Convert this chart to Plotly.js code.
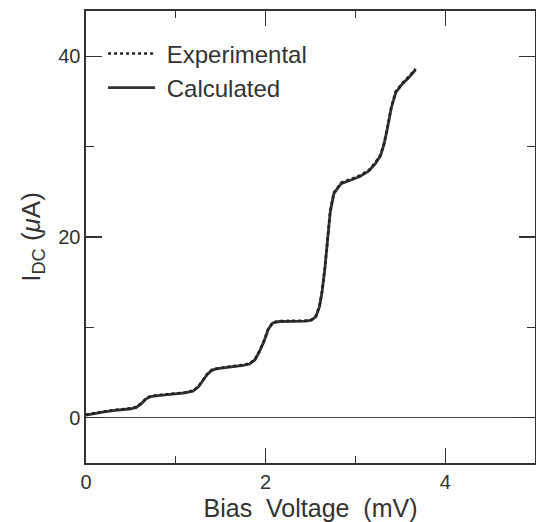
<!DOCTYPE html>
<html>
<head>
<meta charset="utf-8">
<script src="https://cdn.plot.ly/plotly-3.0.1.min.js"></script>
<style>html,body{margin:0;padding:0;background:#fff;}#chart{width:536px;height:522px;}</style>
</head>
<body>
<div id="chart"></div>
<script>
// Bias voltage (mV)
const biasCalc = [0, 0.1, 0.2, 0.3, 0.4, 0.5, 0.56, 0.62, 0.67, 0.72, 0.8, 0.9, 1.0, 1.1, 1.19, 1.25, 1.30, 1.35, 1.40, 1.45, 1.55, 1.65, 1.75, 1.82, 1.88, 1.93, 1.98, 2.03, 2.08, 2.15, 2.25, 2.35, 2.45, 2.51, 2.56, 2.60, 2.63, 2.66, 2.69, 2.72, 2.76, 2.84, 2.95, 3.05, 3.15, 3.22, 3.28, 3.32, 3.36, 3.40, 3.45, 3.52, 3.60, 3.67];
// Calculated I_DC (uA)
const currentCalc = [0.3, 0.5, 0.65, 0.8, 0.9, 1.0, 1.15, 1.6, 2.1, 2.35, 2.45, 2.55, 2.65, 2.75, 2.95, 3.4, 4.1, 4.8, 5.25, 5.4, 5.55, 5.65, 5.8, 5.95, 6.4, 7.3, 8.4, 9.8, 10.5, 10.65, 10.65, 10.65, 10.7, 10.8, 11.2, 12.3, 14.0, 16.5, 19.8, 22.8, 24.8, 25.9, 26.3, 26.7, 27.3, 28.1, 29.0, 30.3, 32.2, 34.3, 36.0, 36.9, 37.7, 38.5];
// Experimental
const biasExp = [0, 0.1, 0.2, 0.3, 0.4, 0.5, 0.56, 0.62, 0.67, 0.72, 0.8, 0.9, 1.0, 1.1, 1.19, 1.25, 1.30, 1.35, 1.40, 1.45, 1.55, 1.65, 1.75, 1.82, 1.88, 1.93, 1.98, 2.03, 2.08, 2.15, 2.25, 2.35, 2.45, 2.51, 2.56, 2.60, 2.63, 2.66, 2.69, 2.72, 2.76, 2.84, 2.95, 3.05, 3.15, 3.22, 3.28, 3.32, 3.36, 3.40, 3.45, 3.52, 3.60, 3.67];
const currentExp = [0.35, 0.55, 0.7, 0.85, 0.95, 1.05, 1.2, 1.65, 2.15, 2.4, 2.5, 2.6, 2.7, 2.8, 3.0, 3.45, 4.15, 4.85, 5.3, 5.45, 5.6, 5.7, 5.85, 6.0, 6.45, 7.35, 8.45, 9.85, 10.55, 10.7, 10.7, 10.7, 10.75, 10.85, 11.25, 12.35, 14.1, 16.6, 19.9, 22.9, 24.9, 26.0, 26.4, 26.8, 27.4, 28.2, 29.1, 30.4, 32.3, 34.4, 36.1, 37.0, 37.8, 38.6];

const seriesNames = ['Calculated', 'Experimental'];
const xTickVals = [0, 2, 4];
const yTickVals = [0, 20, 40];

const traces = [
  {x: biasCalc, y: currentCalc, mode: 'lines', name: '\u00a0' + seriesNames[0], legendrank: 2,
   line: {color: '#333333', width: 2.8, dash: 'solid'}},
  {x: biasExp, y: currentExp, mode: 'lines', name: '\u00a0' + seriesNames[1], legendrank: 1,
   line: {color: '#222222', width: 2.6, dash: 'dot'}}
];

const font = 'Liberation Sans, Arial, Helvetica, sans-serif';
const layout = {
  width: 536, height: 522,
  margin: {l: 86, r: 1, t: 11, b: 59},
  paper_bgcolor: '#ffffff', plot_bgcolor: '#ffffff',
  font: {family: font, color: '#333333', size: 20},
  showlegend: true,
  legend: {x: 0.038, y: 0.955, xanchor: 'left', yanchor: 'top', bgcolor: 'rgba(0,0,0,0)',
           font: {size: 24, family: font, color: '#333'}, tracegroupgap: 0, itemwidth: 47},
  xaxis: {
    range: [0, 5], showgrid: false, zeroline: false,
    showline: true, linecolor: '#333', linewidth: 1.6, mirror: 'ticks',
    ticks: 'inside', ticklen: 15, tickwidth: 1.3, tickcolor: '#333',
    tickvals: xTickVals, ticktext: xTickVals.map(String),
    minor: {tickvals: [1, 3], ticks: 'inside', ticklen: 7, tickwidth: 1.3, tickcolor: '#333'},
    tickfont: {size: 20},
    title: {text: 'Bias  Voltage  (mV)', font: {size: 25}, standoff: 16}
  },
  yaxis: {
    range: [-5, 45], showgrid: false,
    zeroline: true, zerolinecolor: '#444', zerolinewidth: 1.2,
    showline: true, linecolor: '#333', linewidth: 1.6, mirror: 'ticks',
    ticks: 'inside', ticklen: 16, tickwidth: 1.3, tickcolor: '#333',
    tickvals: yTickVals, ticktext: yTickVals.map(String),
    minor: {tickvals: [10, 30], ticks: 'inside', ticklen: 8, tickwidth: 1.3, tickcolor: '#333'},
    tickfont: {size: 20},
    title: {text: 'I<sub>DC</sub> (<i>μ</i>A)', font: {size: 26}, standoff: 10}
  }
};

Plotly.newPlot('chart', traces, layout, {displayModeBar: false, staticPlot: true});
</script>
</body>
</html>
